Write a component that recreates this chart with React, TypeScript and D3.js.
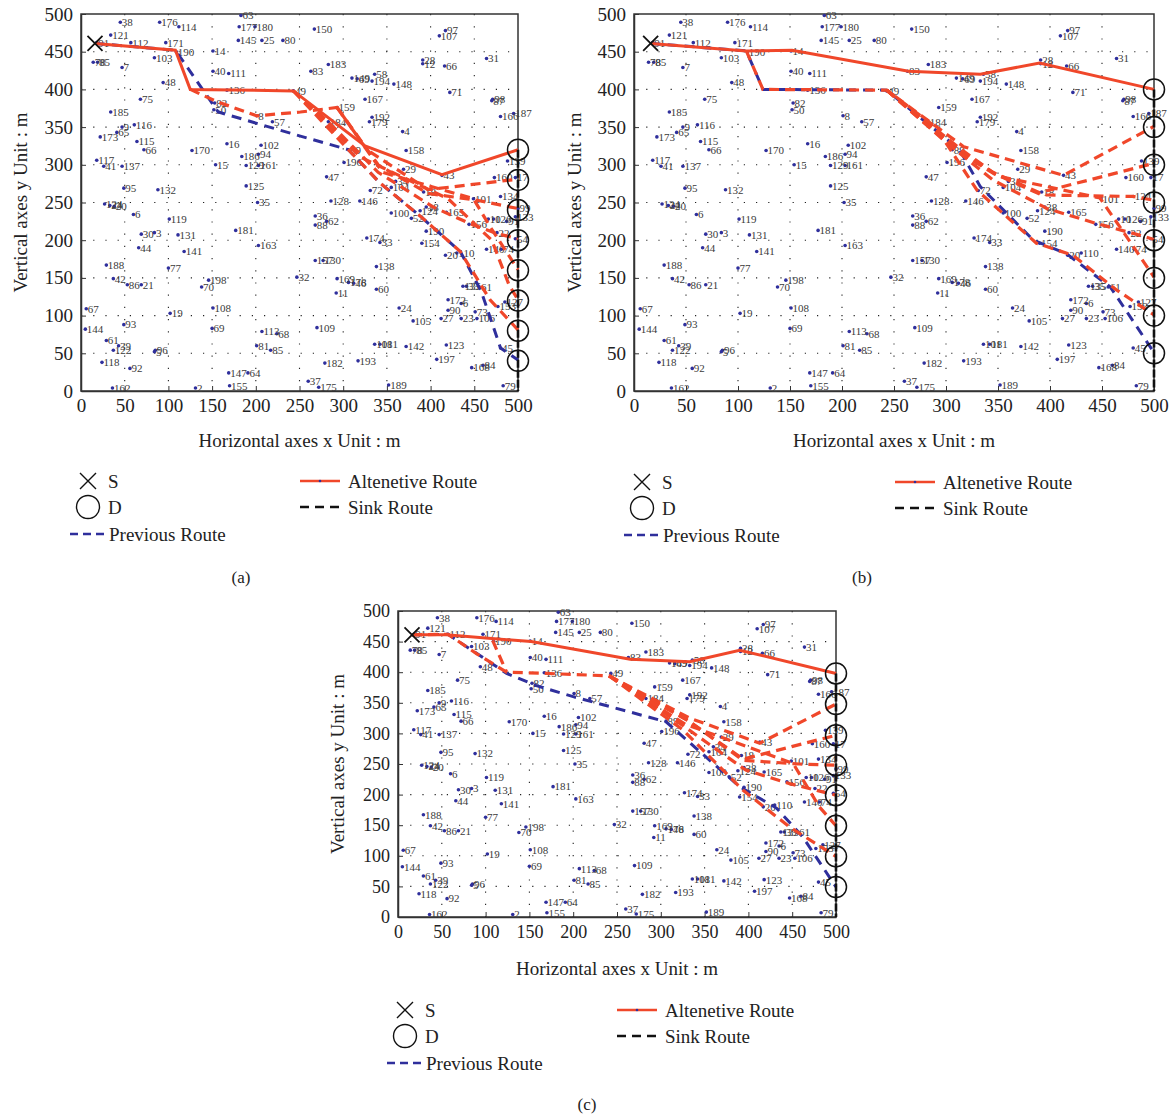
import React, { useEffect, useRef } from 'react';
import * as d3 from 'd3';

type Pt = [number, number];

// sensor nodes: label, x (m), y (m) -- same field in all three panels
const nodes: [string, number, number][] = [
  ['91', 18, 462], ['38', 45, 489], ['176', 90, 489], ['114', 112, 483], ['63', 183, 498],
  ['177', 181, 483], ['180', 199, 483], ['121', 34, 472], ['112', 57, 462], ['171', 97, 462],
  ['145', 180, 465], ['25', 207, 465], ['80', 231, 465], ['190', 109, 450], ['103', 84, 442],
  ['14', 151, 451], ['78', 14, 436], ['85', 19, 436], ['7', 47, 429], ['40', 151, 424],
  ['111', 169, 421], ['48', 94, 409], ['75', 68, 387], ['136', 167, 399], ['185', 34, 370],
  ['9', 47, 350], ['65', 41, 343], ['116', 61, 353], ['173', 22, 337], ['115', 64, 331],
  ['66', 72, 320], ['82', 153, 382], ['50', 152, 373], ['8', 201, 365], ['57', 219, 357],
  ['16', 167, 328], ['102', 206, 326], ['94', 203, 314], ['186', 184, 311], ['129', 189, 299],
  ['161', 203, 299], ['170', 127, 319], ['15', 154, 300], ['117', 18, 306], ['41', 26, 298],
  ['137', 47, 298], ['95', 49, 269], ['132', 88, 267], ['125', 189, 272], ['124', 27, 248],
  ['24', 33, 246], ['20', 38, 245], ['6', 60, 234], ['119', 101, 228], ['30', 69, 208],
  ['3', 84, 210], ['131', 111, 207], ['181', 177, 213], ['35', 202, 250], ['163', 203, 193],
  ['44', 66, 190], ['141', 118, 185], ['188', 29, 167], ['42', 37, 149], ['86', 53, 141],
  ['21', 69, 141], ['77', 100, 163], ['198', 146, 147], ['70', 138, 138], ['67', 6, 109],
  ['19', 102, 103], ['108', 151, 110], ['144', 5, 82], ['93', 49, 88], ['69', 150, 83],
  ['113', 207, 79], ['68', 224, 76], ['61', 29, 67], ['39', 43, 60], ['122', 37, 54],
  ['96', 85, 54], ['5', 84, 52], ['81', 201, 60], ['85', 217, 54], ['118', 24, 38],
  ['92', 56, 30], ['147', 169, 24], ['64', 191, 24], ['155', 170, 7], ['162', 36, 4],
  ['2', 131, 4], ['150', 267, 480], ['97', 417, 478], ['107', 410, 471], ['31', 464, 441],
  ['28', 391, 439], ['12', 391, 434], ['66', 416, 431], ['83', 263, 424], ['183', 283, 433],
  ['149', 310, 415], ['69', 316, 414], ['58', 336, 420], ['194', 333, 411], ['148', 358, 407],
  ['71', 422, 396], ['98', 471, 387], ['87', 470, 385], ['166', 480, 364], ['187', 495, 368],
  ['49', 243, 398], ['167', 325, 387], ['159', 293, 376], ['192', 333, 363], ['179', 330, 357],
  ['184', 283, 357], ['4', 368, 344], ['89', 306, 320], ['158', 372, 319], ['196', 301, 303],
  ['43', 413, 286], ['139', 488, 305], ['29', 369, 294], ['47', 281, 284], ['160', 473, 283],
  ['17', 497, 283], ['34', 360, 278], ['104', 355, 270], ['72', 331, 266], ['134', 480, 258],
  ['18', 392, 264], ['101', 449, 255], ['128', 286, 252], ['146', 319, 252], ['36', 268, 232],
  ['88', 268, 220], ['62', 281, 225], ['100', 355, 236], ['52', 378, 229], ['124', 388, 239],
  ['38', 395, 244], ['165', 418, 237], ['190', 395, 212], ['156', 444, 221], ['126', 472, 228],
  ['10', 466, 228], ['91', 487, 225], ['133', 497, 231], ['99', 500, 242], ['22', 476, 210],
  ['54', 497, 202], ['174', 327, 203], ['33', 342, 197], ['154', 390, 196], ['20', 417, 180],
  ['110', 430, 183], ['140', 464, 188], ['74', 481, 188], ['157', 268, 173], ['130', 277, 173],
  ['138', 338, 165], ['32', 247, 151], ['169', 293, 149], ['178', 306, 144], ['46', 312, 143],
  ['11', 292, 130], ['60', 338, 135], ['135', 437, 139], ['35', 441, 139], ['61', 456, 138],
  ['172', 420, 121], ['6', 435, 116], ['90', 420, 107], ['27', 412, 96], ['23', 435, 96],
  ['73', 451, 105], ['106', 453, 96], ['153', 477, 112], ['127', 485, 118], ['24', 364, 110],
  ['105', 380, 93], ['109', 270, 84], ['101', 336, 62], ['181', 342, 62], ['142', 372, 59],
  ['123', 418, 61], ['45', 480, 57], ['182', 279, 37], ['193', 317, 40], ['197', 407, 42],
  ['168', 447, 31], ['84', 460, 34], ['37', 260, 13], ['175', 272, 5], ['189', 352, 8],
  ['79', 483, 7],
];

const source: Pt = [16, 461];
const ticks = [0, 50, 100, 150, 200, 250, 300, 350, 400, 450, 500];

// destinations on the sink route (x = 500)
const sinksA = [320, 280, 240, 200, 160, 120, 80, 40];
const sinksB = [400, 350, 300, 250, 200, 150, 100, 50];
const sinksC = [398, 348, 297, 248, 199, 149, 99, 49];

// panel (a)
const altA: Pt[] = [[16, 461], [108, 452], [125, 400], [243, 398], [325, 325], [413, 287], [500, 320]];
const dashA: Pt[][] = [
  [[125, 400], [155, 384], [201, 365], [251, 370], [293, 376], [327, 320], [397, 267], [500, 281]],
  [[293, 376], [340, 300], [397, 262], [453, 253], [500, 242]],
  [[243, 398], [283, 357], [340, 290], [403, 244], [445, 222], [475, 209], [500, 202]],
  [[293, 376], [345, 290], [449, 255], [468, 218], [500, 161]],
  [[243, 398], [320, 310], [420, 255], [470, 200], [490, 140], [500, 121]],
  [[243, 398], [306, 320], [342, 276], [390, 230], [434, 185], [468, 121], [500, 81]],
];
const prevA: Pt[] = [[16, 461], [108, 452], [157, 370], [251, 338], [306, 320], [342, 276], [390, 230], [434, 185], [458, 132], [480, 57], [500, 41]];

// panel (b)
const altB: Pt[] = [[16, 461], [108, 451], [152, 452], [264, 424], [333, 420], [390, 435], [500, 400]];
const dashB: Pt[][] = [
  [[108, 451], [124, 400], [243, 399], [317, 324], [413, 286], [500, 351]],
  [[243, 399], [313, 320], [345, 290], [390, 263], [500, 302]],
  [[243, 399], [313, 322], [347, 288], [392, 260], [480, 258], [500, 253]],
  [[243, 399], [300, 330], [345, 280], [397, 242], [445, 222], [480, 209], [500, 201]],
  [[243, 399], [311, 318], [350, 285], [448, 256], [467, 218], [500, 151]],
  [[243, 399], [290, 350], [330, 266], [387, 196], [422, 180], [464, 134], [500, 101]],
];
const prevB: Pt[] = [[16, 461], [108, 451], [124, 400], [243, 399], [313, 320], [333, 271], [384, 200], [416, 182], [458, 138], [500, 51]];

// panel (c)
const altC: Pt[] = [[16, 461], [55, 461], [152, 450], [265, 421], [333, 417], [390, 436], [500, 398]];
const dashC: Pt[][] = [
  [[16, 461], [57, 462], [90, 430], [124, 400], [169, 398], [241, 394], [333, 325], [413, 284], [500, 348]],
  [[108, 452], [124, 400]],
  [[241, 394], [330, 322], [394, 258], [500, 297]],
  [[241, 394], [332, 320], [394, 256], [458, 250], [500, 248]],
  [[241, 394], [320, 318], [397, 240], [447, 218], [500, 199]],
  [[241, 394], [328, 315], [451, 251], [481, 180], [500, 149]],
  [[241, 394], [325, 306], [394, 207], [447, 147], [500, 99]],
];
const prevC: Pt[] = [[16, 461], [57, 462], [124, 398], [158, 378], [200, 360], [306, 319], [390, 213], [432, 178], [462, 131], [500, 49]];

const RED = '#f0472a';
const BLUE = '#2f2f9c';
const SERIF = "'Liberation Serif', 'DejaVu Serif', 'Times New Roman', serif";

type Cfg = {
  left: number; right: number; top: number; bottom: number;
  yTitleX: number; xTitleY: number;
  legX: number; legY: number; leg2X: number; caption: string; capY: number; capX: number;
  tickFont: number;
};

const panels: { cfg: Cfg; sinks: number[]; alt: Pt[]; dash: Pt[][]; prev: Pt[] }[] = [
  { cfg: { left: 81, right: 518, top: 14, bottom: 391, yTitleX: 20, xTitleY: 440, legX: 88, legY: 481, leg2X: 300, caption: '(a)', capX: 241, capY: 577, tickFont: 19 }, sinks: sinksA, alt: altA, dash: dashA, prev: prevA },
  { cfg: { left: 634, right: 1154, top: 14, bottom: 391, yTitleX: 574, xTitleY: 440, legX: 642, legY: 482, leg2X: 895, caption: '(b)', capX: 862, capY: 577, tickFont: 19 }, sinks: sinksB, alt: altB, dash: dashB, prev: prevB },
  { cfg: { left: 398, right: 836, top: 611, bottom: 917, yTitleX: 337, xTitleY: 968, legX: 405, legY: 1010, leg2X: 617, caption: '(c)', capX: 587, capY: 1104, tickFont: 18 }, sinks: sinksC, alt: altC, dash: dashC, prev: prevC },
];

const drawPanel = (svg: any, p: (typeof panels)[number]) => {
  const c = p.cfg;
  const x = d3.scaleLinear().domain([0, 500]).range([c.left, c.right]);
  const y = d3.scaleLinear().domain([0, 500]).range([c.bottom, c.top]);
  const g = svg.append('g').attr('font-family', SERIF).style('font-family', SERIF);

  // dotted grid
  g.append('g').selectAll('line.v').data(ticks.slice(1, -1)).join('line')
    .attr('x1', (d: number) => x(d)).attr('x2', (d: number) => x(d))
    .attr('y1', c.top).attr('y2', c.bottom)
    .attr('stroke', '#222').attr('stroke-width', 1.1).attr('stroke-dasharray', '1.2,11');
  g.append('g').selectAll('line.h').data(ticks.slice(1, -1)).join('line')
    .attr('y1', (d: number) => y(d)).attr('y2', (d: number) => y(d))
    .attr('x1', c.left).attr('x2', c.right)
    .attr('stroke', '#222').attr('stroke-width', 1.1).attr('stroke-dasharray', '1.2,11');

  // axes
  const xa = g.append('g').attr('transform', `translate(0,${c.bottom})`)
    .call(d3.axisBottom(x).tickValues(ticks).tickSizeInner(-5).tickSizeOuter(0).tickPadding(8));
  const ya = g.append('g').attr('transform', `translate(${c.left},0)`)
    .call(d3.axisLeft(y).tickValues(ticks).tickSizeInner(-5).tickSizeOuter(0).tickPadding(8));
  [xa, ya].forEach((a) => {
    a.attr('font-family', SERIF);
    a.selectAll('text').style('font-size', `${c.tickFont}px`).style('font-family', SERIF).attr('fill', '#222');
    a.selectAll('line').attr('stroke', '#333');
    a.select('.domain').attr('stroke', '#333').attr('stroke-width', 1.5);
  });
  g.append('rect').attr('x', c.left).attr('y', c.top)
    .attr('width', c.right - c.left).attr('height', c.bottom - c.top)
    .attr('fill', 'none').attr('stroke', '#333').attr('stroke-width', 1.5);

  // axis titles
  g.append('text').attr('x', (c.left + c.right) / 2).attr('y', c.xTitleY)
    .attr('text-anchor', 'middle').attr('dy', '0.35em').style('font-size', '19px').attr('fill', '#222')
    .text('Horizontal axes x Unit : m');
  g.append('text')
    .attr('transform', `translate(${c.yTitleX},${(c.top + c.bottom) / 2}) rotate(-90)`)
    .attr('text-anchor', 'middle').attr('dy', '0.35em').style('font-size', '19px').attr('fill', '#222')
    .text('Vertical axes y Unit : m');

  // nodes
  const ng = g.append('g');
  ng.selectAll('circle').data(nodes).join('circle')
    .attr('cx', (d: any) => x(d[1])).attr('cy', (d: any) => y(d[2])).attr('r', 1.8).attr('fill', BLUE);
  ng.selectAll('text').data(nodes).join('text')
    .attr('x', (d: any) => x(d[1]) + 1.5).attr('y', (d: any) => y(d[2]))
    .attr('dy', '0.35em').style('font-size', '11px').attr('fill', '#3a3a3a')
    .text((d: any) => d[0]);

  const line = d3.line<Pt>().x((d) => x(d[0])).y((d) => y(d[1]));

  // previous route
  g.append('path').attr('d', line(p.prev)).attr('fill', 'none').attr('stroke', BLUE)
    .attr('stroke-width', 3).attr('stroke-dasharray', '10,7');
  // alternative dashed routes
  p.dash.forEach((r) => {
    g.append('path').attr('d', line(r)).attr('fill', 'none').attr('stroke', RED)
      .attr('stroke-width', 3.2).attr('stroke-dasharray', '10,6');
  });
  // alternative solid route
  g.append('path').attr('d', line(p.alt)).attr('fill', 'none').attr('stroke', RED).attr('stroke-width', 3);

  // sink route
  g.append('line').attr('x1', x(500)).attr('x2', x(500))
    .attr('y1', y(d3.max(p.sinks) as number)).attr('y2', y(0))
    .attr('stroke', '#111').attr('stroke-width', 2.6).attr('stroke-dasharray', '8,2');
  g.append('g').selectAll('circle').data(p.sinks).join('circle')
    .attr('cx', x(500)).attr('cy', (d: number) => y(d)).attr('r', 10.5)
    .attr('fill', 'none').attr('stroke', '#111').attr('stroke-width', 1.5);

  // source
  const sx = x(source[0]);
  const sy = y(source[1]);
  g.append('path').attr('d', `M${sx - 7.5},${sy - 7.5}L${sx + 7.5},${sy + 7.5}M${sx - 7.5},${sy + 7.5}L${sx + 7.5},${sy - 7.5}`)
    .attr('stroke', '#111').attr('stroke-width', 1.8);

  // legend
  const lg = g.append('g').style('font-size', '19px').attr('fill', '#222');
  const r1 = c.legY;
  const r2 = c.legY + 26;
  const r3 = c.legY + 53;
  lg.append('path').attr('d', `M${c.legX - 8},${r1 - 8}L${c.legX + 8},${r1 + 8}M${c.legX - 8},${r1 + 8}L${c.legX + 8},${r1 - 8}`)
    .attr('stroke', '#111').attr('stroke-width', 1.4);
  lg.append('text').attr('x', c.legX + 20).attr('y', r1).attr('dy', '0.35em').text('S');
  lg.append('circle').attr('cx', c.legX).attr('cy', r2).attr('r', 11.5).attr('fill', 'none').attr('stroke', '#111').attr('stroke-width', 1.4);
  lg.append('text').attr('x', c.legX + 20).attr('y', r2).attr('dy', '0.35em').text('D');
  lg.append('line').attr('x1', c.legX - 18).attr('x2', c.legX + 17).attr('y1', r3).attr('y2', r3)
    .attr('stroke', BLUE).attr('stroke-width', 2.6).attr('stroke-dasharray', '8,5');
  lg.append('text').attr('x', c.legX + 21).attr('y', r3).attr('dy', '0.35em').text('Previous Route');
  lg.append('line').attr('x1', c.leg2X).attr('x2', c.leg2X + 40).attr('y1', r1).attr('y2', r1)
    .attr('stroke', RED).attr('stroke-width', 2.6);
  lg.append('circle').attr('cx', c.leg2X + 20).attr('cy', r1).attr('r', 1.3).attr('fill', BLUE);
  lg.append('text').attr('x', c.leg2X + 48).attr('y', r1).attr('dy', '0.35em').text('Altenetive Route');
  lg.append('line').attr('x1', c.leg2X).attr('x2', c.leg2X + 40).attr('y1', r2).attr('y2', r2)
    .attr('stroke', '#111').attr('stroke-width', 2.6).attr('stroke-dasharray', '9,6');
  lg.append('text').attr('x', c.leg2X + 48).attr('y', r2).attr('dy', '0.35em').text('Sink Route');

  g.append('text').attr('x', c.capX).attr('y', c.capY).attr('text-anchor', 'middle').attr('dy', '0.35em')
    .style('font-size', '17px').attr('fill', '#222').text(c.caption);
};

const App = () => {
  const ref = useRef<SVGSVGElement | null>(null);

  useEffect(() => {
    document.body.style.margin = '0';
    const svg = d3.select(ref.current);
    svg.selectAll('*').remove();
    panels.forEach((p) => drawPanel(svg, p));
  }, []);

  return <svg ref={ref} width={1175} height={1115} fontFamily={SERIF} style={{ display: 'block', background: '#fff', fontFamily: SERIF }} />;
};

export default App;
